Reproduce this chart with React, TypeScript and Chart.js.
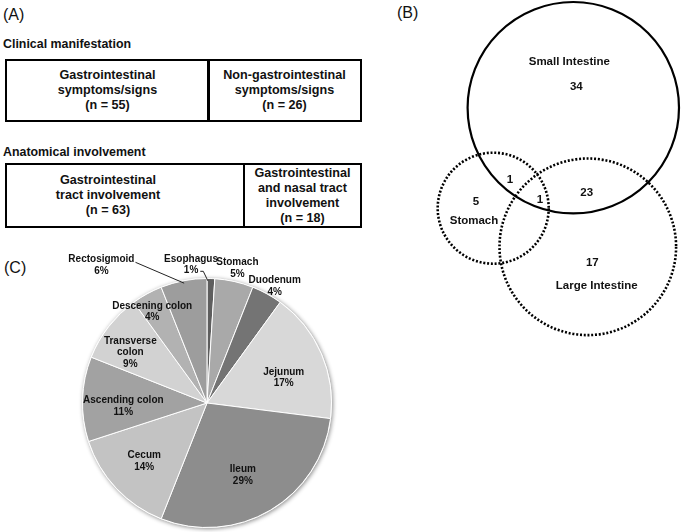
import React, { useEffect, useRef } from "react";
import { Chart, registerables } from "chart.js";
Chart.register(...registerables);

// ---------- data ----------
const clinicalGroups = ["Gastrointestinal|symptoms/signs", "Non-gastrointestinal|symptoms/signs"];
const clinicalCounts = [55, 26];
const anatomicalGroups = ["Gastrointestinal|tract involvement", "Gastrointestinal|and nasal tract|involvement"];
const anatomicalCounts = [63, 18];

const sites = ["Esophagus", "Stomach", "Duodenum", "Jejunum", "Ileum", "Cecum", "Ascending colon", "Transverse|colon", "Descening colon", "Rectosigmoid"];
const sitePercents = [1, 5, 4, 17, 29, 14, 11, 9, 4, 6];
const siteColors = ["#5e5e5e", "#a9a9a9", "#747474", "#d8d8d8", "#8d8d8d", "#c3c3c3", "#a2a2a2", "#d2d2d2", "#b2b2b2", "#9d9d9d"];

const vennSets = ["Small Intestine", "Stomach", "Large Intestine"];
const vennRegions = ["Small Intestine only", "Small Intestine & Stomach", "All three", "Small & Large Intestine", "Stomach only", "Large Intestine only"];
const vennCounts = [34, 1, 1, 23, 5, 17];

// ---------- layout (not data) ----------
const FONT = '"Liberation Sans", Arial, Helvetica, sans-serif';
// label centre relative to pie centre, in units of radius
const PIE_LABEL_POS: [number, number][] = [
  [-0.128, -1.112],
  [0.244, -1.084],
  [0.544, -0.936],
  [0.616, -0.204],
  [0.288, 0.58],
  [-0.504, 0.468],
  [-0.672, 0.028],
  [-0.616, -0.404],
  [-0.44, -0.732],
  [-0.848, -1.108],
];
// venn geometry in page pixels
const VENN_CIRCLES = [
  { cx: 573.3, cy: 107.7, r: 105.7, dotted: false },
  { cx: 493.2, cy: 208.2, r: 55.5, dotted: true },
  { cx: 587.8, cy: 246.8, r: 88.3, dotted: true },
];
const VENN_SET_POS = [
  [569.3, 62.3],
  [474, 220.7],
  [596.7, 286],
];
const VENN_COUNT_POS = [
  [576.3, 86.7],
  [510, 180],
  [540, 200],
  [586.7, 192.7],
  [476, 202.3],
  [592.3, 263.3],
];

const pieLabelPlugin = {
  id: "pieLabels",
  beforeDatasetsDraw(chart: any) {
    const el = chart.getDatasetMeta(0).data[0];
    if (!el) return;
    const { x, y, outerRadius } = el.getProps(["x", "y", "outerRadius"], true);
    const ctx = chart.ctx;
    ctx.save();
    ctx.beginPath();
    ctx.arc(x, y, outerRadius + 0.5, 0, Math.PI * 2);
    ctx.shadowColor = "rgba(0,0,0,0.45)";
    ctx.shadowBlur = 4;
    ctx.shadowOffsetX = 1;
    ctx.shadowOffsetY = 1;
    ctx.fillStyle = "#ffffff";
    ctx.fill();
    ctx.restore();
  },
  afterDatasetsDraw(chart: any) {
    const ctx = chart.ctx;
    const meta = chart.getDatasetMeta(0);
    ctx.save();
    ctx.font = `bold 10px ${FONT}`;
    ctx.fillStyle = "#111";
    ctx.textAlign = "center";
    ctx.textBaseline = "middle";
    const lh = 11.5;
    meta.data.forEach((el: any, i: number) => {
      const { x, y, startAngle, endAngle, outerRadius } = el.getProps(
        ["x", "y", "startAngle", "endAngle", "outerRadius"],
        true
      );
      const [fx, fy] = PIE_LABEL_POS[i];
      const lx = x + fx * outerRadius;
      const ly = y + fy * outerRadius;
      const lines = [...sites[i].split("|"), `${sitePercents[i]}%`];
      const top = ly - ((lines.length - 1) * lh) / 2;
      lines.forEach((t, k) => ctx.fillText(t, lx, top + k * lh));
      const mid = (startAngle + endAngle) / 2;
      if (i === 9) {
        const w = ctx.measureText(lines[0]).width;
        const ex = x + Math.cos(mid) * outerRadius * 0.98;
        const ey = y + Math.sin(mid) * outerRadius * 0.98;
        ctx.beginPath();
        ctx.strokeStyle = "#222";
        ctx.lineWidth = 1;
        ctx.moveTo(lx + w / 2 + 1, top + 3);
        ctx.lineTo(ex, ey);
        ctx.stroke();
      }
      if (i === 0) {
        const w = ctx.measureText(lines[1]).width;
        const sy = top + lh + 1;
        const ex = x + Math.cos(mid) * outerRadius * 0.99 - 3;
        const ey = y + Math.sin(mid) * outerRadius * 0.99 + 1;
        ctx.beginPath();
        ctx.strokeStyle = "#222";
        ctx.lineWidth = 1;
        ctx.moveTo(lx + w / 2 + 2, sy);
        ctx.lineTo(lx + w / 2 + 5, sy);
        ctx.lineTo(ex, ey);
        ctx.stroke();
      }
    });
    ctx.restore();
  },
};

const vennPlugin = {
  id: "venn",
  afterDatasetsDraw(chart: any) {
    const ctx = chart.ctx;
    const xs = chart.scales.x;
    const ys = chart.scales.y;
    const unit = Math.abs(xs.getPixelForValue(1) - xs.getPixelForValue(0));
    ctx.save();
    VENN_CIRCLES.forEach((c) => {
      ctx.beginPath();
      ctx.arc(xs.getPixelForValue(c.cx), ys.getPixelForValue(c.cy), c.r * unit, 0, Math.PI * 2);
      ctx.strokeStyle = "#000";
      if (c.dotted) {
        ctx.lineWidth = 2.6;
        ctx.setLineDash([2, 1.8]);
      } else {
        ctx.lineWidth = 2.2;
        ctx.setLineDash([]);
      }
      ctx.stroke();
    });
    ctx.setLineDash([]);
    ctx.fillStyle = "#111";
    ctx.textAlign = "center";
    ctx.textBaseline = "middle";
    ctx.font = `bold 11.5px ${FONT}`;
    vennSets.forEach((s, i) => {
      ctx.fillText(s, xs.getPixelForValue(VENN_SET_POS[i][0]), ys.getPixelForValue(VENN_SET_POS[i][1]));
    });
    vennCounts.forEach((n, i) => {
      ctx.fillText(String(n), xs.getPixelForValue(VENN_COUNT_POS[i][0]), ys.getPixelForValue(VENN_COUNT_POS[i][1]));
    });
    ctx.restore();
  },
};

function Box({ left, top, width, height, lines, padRight = 0 }: any) {
  return (
    <div
      style={{
        position: "absolute",
        left,
        top,
        width,
        height,
        boxSizing: "border-box",
        border: "2px solid #000",
        display: "flex",
        alignItems: "center",
        justifyContent: "center",
        paddingRight: padRight,
        textAlign: "center",
        fontWeight: "bold",
        fontSize: 12.6,
        lineHeight: "15px",
        color: "#111",
      }}
    >
      <div>
        {lines.map((l: string, i: number) => (
          <div key={i} style={{ whiteSpace: "nowrap" }}>
            {l}
          </div>
        ))}
      </div>
    </div>
  );
}

export default function App() {
  const pieRef = useRef<HTMLCanvasElement>(null);
  const vennRef = useRef<HTMLCanvasElement>(null);

  useEffect(() => {
    const pie = new Chart(pieRef.current!, {
      type: "pie",
      data: {
        labels: sites.map((s) => s.replace("|", " ")),
        datasets: [
          {
            data: sitePercents,
            backgroundColor: siteColors,
            borderColor: "#ffffff",
            borderWidth: 1,
          },
        ],
      },
      options: {
        responsive: false,
        animation: false,
        events: [],
        layout: { padding: { left: 82, top: 38, right: 48, bottom: 4 } },
        plugins: { legend: { display: false }, tooltip: { enabled: false } },
      },
      plugins: [pieLabelPlugin],
    } as any);

    const venn = new Chart(vennRef.current!, {
      type: "scatter",
      data: {
        labels: vennRegions,
        datasets: [
          {
            data: VENN_COUNT_POS.map(([x, y]) => ({ x, y })),
            pointRadius: 0,
          },
        ],
      },
      options: {
        responsive: false,
        animation: false,
        events: [],
        layout: { padding: 0 },
        scales: {
          x: { type: "linear", min: 385, max: 685, display: false },
          y: { type: "linear", min: 0, max: 345, reverse: true, display: false },
        },
        plugins: { legend: { display: false }, tooltip: { enabled: false } },
      },
      plugins: [vennPlugin],
    } as any);

    return () => {
      pie.destroy();
      venn.destroy();
    };
  }, []);

  const heading: React.CSSProperties = {
    position: "absolute",
    fontWeight: "bold",
    fontSize: 12.4,
    lineHeight: "14px",
    color: "#111",
    whiteSpace: "nowrap",
  };
  const panel: React.CSSProperties = {
    position: "absolute",
    fontSize: 16,
    lineHeight: "18px",
    color: "#111",
  };

  return (
    <div
      style={{
        position: "absolute",
        left: 0,
        top: 0,
        width: 685,
        height: 532,
        background: "#fff",
        fontFamily: FONT,
        overflow: "hidden",
      }}
    >
      <div style={{ ...panel, left: 3, top: 6 }}>(A)</div>
      <div style={{ ...panel, left: 397, top: 4 }}>(B)</div>
      <div style={{ ...panel, left: 4, top: 259 }}>(C)</div>

      <div style={{ ...heading, left: 3, top: 37 }}>Clinical manifestation</div>
      <Box left={5} top={59} width={205} height={63} lines={[...clinicalGroups[0].split("|"), `(n = ${clinicalCounts[0]})`]} />
      <Box left={207} top={59} width={155} height={63} lines={[...clinicalGroups[1].split("|"), `(n = ${clinicalCounts[1]})`]} />

      <div style={{ ...heading, left: 3, top: 145 }}>Anatomical involvement</div>
      <Box left={5} top={163} width={240} height={65} padRight={34} lines={[...anatomicalGroups[0].split("|"), `(n = ${anatomicalCounts[0]})`]} />
      <Box left={243} top={163} width={119} height={65} lines={[...anatomicalGroups[1].split("|"), `(n = ${anatomicalCounts[1]})`]} />

      <canvas
        ref={pieRef}
        width={380}
        height={292}
        style={{ position: "absolute", left: 0, top: 240, width: 380, height: 292 }}
      />
      <canvas
        ref={vennRef}
        width={300}
        height={345}
        style={{ position: "absolute", left: 385, top: 0, width: 300, height: 345 }}
      />
    </div>
  );
}
